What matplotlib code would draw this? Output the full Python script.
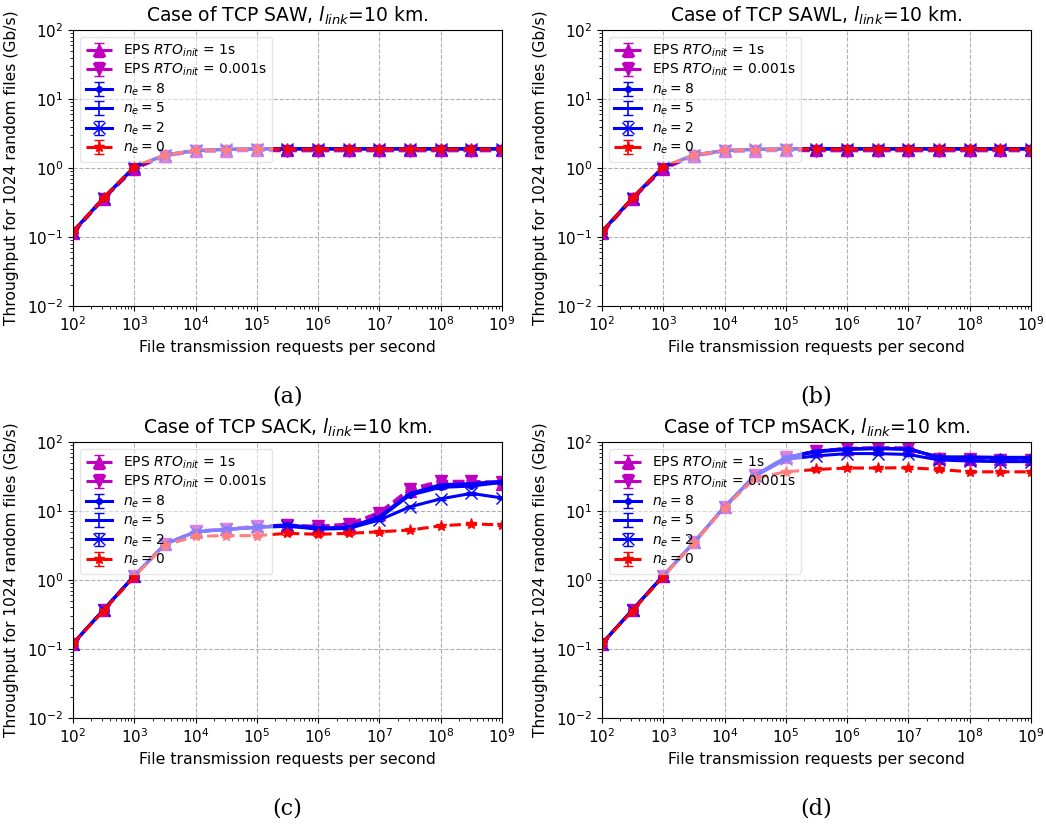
import numpy as np
import matplotlib
matplotlib.use("Agg")
import matplotlib.pyplot as plt

# --- data ---
x = [1e2, 3.16e2, 1e3, 3.16e3, 1e4, 3.16e4, 1e5, 3.16e5,
     1e6, 3.16e6, 1e7, 3.16e7, 1e8, 3.16e8, 1e9]

labels = ["EPS $RTO_{init}$ = 1s", "EPS $RTO_{init}$ = 0.001s",
          "$n_e = 8$", "$n_e = 5$", "$n_e = 2$", "$n_e = 0$"]

saw_eps1 = [0.115, 0.36, 0.98, 1.5, 1.75, 1.78, 1.8, 1.8, 1.8, 1.8, 1.8, 1.8, 1.8, 1.8, 1.8]
saw_eps2 = [0.115, 0.36, 0.98, 1.5, 1.75, 1.78, 1.8, 1.78, 1.78, 1.78, 1.78, 1.78, 1.78, 1.78, 1.78]
saw_ne8 = [0.12, 0.37, 1.03, 1.55, 1.8, 1.87, 1.9, 1.9, 1.9, 1.9, 1.9, 1.9, 1.9, 1.9, 1.9]
saw_ne5 = [0.12, 0.37, 1.03, 1.55, 1.8, 1.87, 1.9, 1.9, 1.9, 1.9, 1.9, 1.9, 1.9, 1.9, 1.9]
saw_ne2 = [0.12, 0.37, 1.03, 1.55, 1.8, 1.87, 1.9, 1.9, 1.9, 1.9, 1.9, 1.9, 1.9, 1.9, 1.9]
saw_ne0 = [0.12, 0.37, 1.05, 1.55, 1.8, 1.85, 1.9, 1.88, 1.88, 1.88, 1.88, 1.88, 1.88, 1.88, 1.88]

sawl_eps1 = [0.115, 0.36, 0.98, 1.5, 1.75, 1.78, 1.8, 1.8, 1.8, 1.8, 1.8, 1.8, 1.8, 1.8, 1.8]
sawl_eps2 = [0.115, 0.36, 0.98, 1.5, 1.75, 1.78, 1.8, 1.78, 1.78, 1.78, 1.78, 1.78, 1.78, 1.78, 1.78]
sawl_ne8 = [0.12, 0.37, 1.03, 1.55, 1.8, 1.87, 1.9, 1.9, 1.9, 1.9, 1.9, 1.9, 1.9, 1.9, 1.9]
sawl_ne5 = [0.12, 0.37, 1.03, 1.55, 1.8, 1.87, 1.9, 1.9, 1.9, 1.9, 1.9, 1.9, 1.9, 1.9, 1.9]
sawl_ne2 = [0.12, 0.37, 1.03, 1.55, 1.8, 1.87, 1.9, 1.9, 1.9, 1.9, 1.9, 1.9, 1.9, 1.9, 1.9]
sawl_ne0 = [0.12, 0.37, 1.05, 1.55, 1.8, 1.85, 1.9, 1.88, 1.88, 1.88, 1.88, 1.88, 1.88, 1.88, 1.88]

sack_eps1 = [0.12, 0.37, 1.15, 3.3, 5.1, 5.5, 6.0, 6.3, 5.9, 6.3, 9.2, 19.5, 26, 27, 25]
sack_eps2 = [0.12, 0.37, 1.15, 3.3, 5.1, 5.5, 6.0, 6.2, 6.0, 6.5, 9.5, 21, 27, 27, 26]
sack_ne8 = [0.12, 0.37, 1.15, 3.3, 5.0, 5.4, 5.8, 6.2, 5.5, 5.6, 7.9, 17, 22, 23, 26]
sack_ne5 = [0.12, 0.37, 1.15, 3.3, 5.0, 5.4, 5.8, 6.3, 5.7, 5.8, 8.3, 18, 24, 25, 27]
sack_ne2 = [0.12, 0.37, 1.15, 3.3, 5.0, 5.4, 5.8, 6.0, 5.5, 5.6, 7.4, 11.5, 15, 18, 15.5]
sack_ne0 = [0.12, 0.36, 1.12, 3.2, 4.3, 4.4, 4.4, 4.75, 4.6, 4.75, 5.0, 5.3, 6.1, 6.5, 6.3]

msack_eps1 = [0.12, 0.37, 1.15, 3.5, 11.5, 33, 60, 74, 80, 82, 81, 58, 57, 56, 56]
msack_eps2 = [0.12, 0.37, 1.15, 3.5, 11.5, 33, 60, 74, 81, 83, 82, 57, 56, 55, 55]
msack_ne8 = [0.12, 0.37, 1.15, 3.5, 11.5, 33, 59, 72, 78, 80, 78, 61, 61, 60, 60]
msack_ne5 = [0.12, 0.37, 1.15, 3.5, 11.5, 33, 60, 74, 80, 81, 80, 60, 59, 58, 58]
msack_ne2 = [0.12, 0.37, 1.15, 3.5, 11.5, 32, 56, 63, 68, 68, 66, 55, 53, 52, 52]
msack_ne0 = [0.12, 0.36, 1.12, 3.4, 11.2, 30, 37, 40, 42, 42, 42.5, 40, 37, 37, 37]

rel_err = 0.04

panels = [
    ("Case of TCP SAW, $l_{link}$=10 km.", "(a)",
     [saw_eps1, saw_eps2, saw_ne8, saw_ne5, saw_ne2, saw_ne0]),
    ("Case of TCP SAWL, $l_{link}$=10 km.", "(b)",
     [sawl_eps1, sawl_eps2, sawl_ne8, sawl_ne5, sawl_ne2, sawl_ne0]),
    ("Case of TCP SACK, $l_{link}$=10 km.", "(c)",
     [sack_eps1, sack_eps2, sack_ne8, sack_ne5, sack_ne2, sack_ne0]),
    ("Case of TCP mSACK, $l_{link}$=10 km.", "(d)",
     [msack_eps1, msack_eps2, msack_ne8, msack_ne5, msack_ne2, msack_ne0]),
]

styles = [
    dict(color="m", marker="^", linestyle="--"),
    dict(color="m", marker="v", linestyle="--"),
    dict(color="b", marker=".", linestyle="-"),
    dict(color="b", marker="", linestyle="-"),
    dict(color="b", marker="x", linestyle="-"),
    dict(color="r", marker="*", linestyle="--"),
]

# --- figure ---
fig = plt.figure(figsize=(10.46, 8.25), dpi=100)
positions = [
    [0.0698, 0.629, 0.410, 0.3345],
    [0.5755, 0.629, 0.410, 0.3345],
    [0.0698, 0.1297, 0.410, 0.3345],
    [0.5755, 0.1297, 0.410, 0.3345],
]

for pos, (title, tag, series) in zip(positions, panels):
    ax = fig.add_axes(pos)
    for y, lab, st in zip(series, labels, styles):
        y = np.array(y)
        ax.errorbar(x, y, yerr=rel_err * y, label=lab, linewidth=2.2,
                    markersize=8, capsize=3.5, elinewidth=1.2, **st)
    ax.set_xscale("log")
    ax.set_yscale("log")
    ax.set_xlim(1e2, 1e9)
    ax.set_ylim(1e-2, 1e2)
    ax.set_xticks([10.0 ** k for k in range(2, 10)])
    ax.set_yticks([10.0 ** k for k in range(-2, 3)])
    ax.grid(True, which="major", linestyle="--", color="#b0b0b0")
    ax.tick_params(labelsize=11)
    ax.set_title(title, fontsize=13.5)
    ax.set_xlabel("File transmission requests per second", fontsize=11.3)
    ax.set_ylabel("Throughput for 1024 random files (Gb/s)", fontsize=11.2,
                  labelpad=6)
    ax.legend(loc="upper left", fontsize=10, framealpha=0.5,
              labelspacing=0.22, handlelength=1.9)
    cx = pos[0] + pos[2] / 2
    fig.text(cx, pos[1] - 0.11, tag, ha="center", va="center",
             fontsize=16, family="DejaVu Serif")

fig.savefig("out.png", dpi=100)
